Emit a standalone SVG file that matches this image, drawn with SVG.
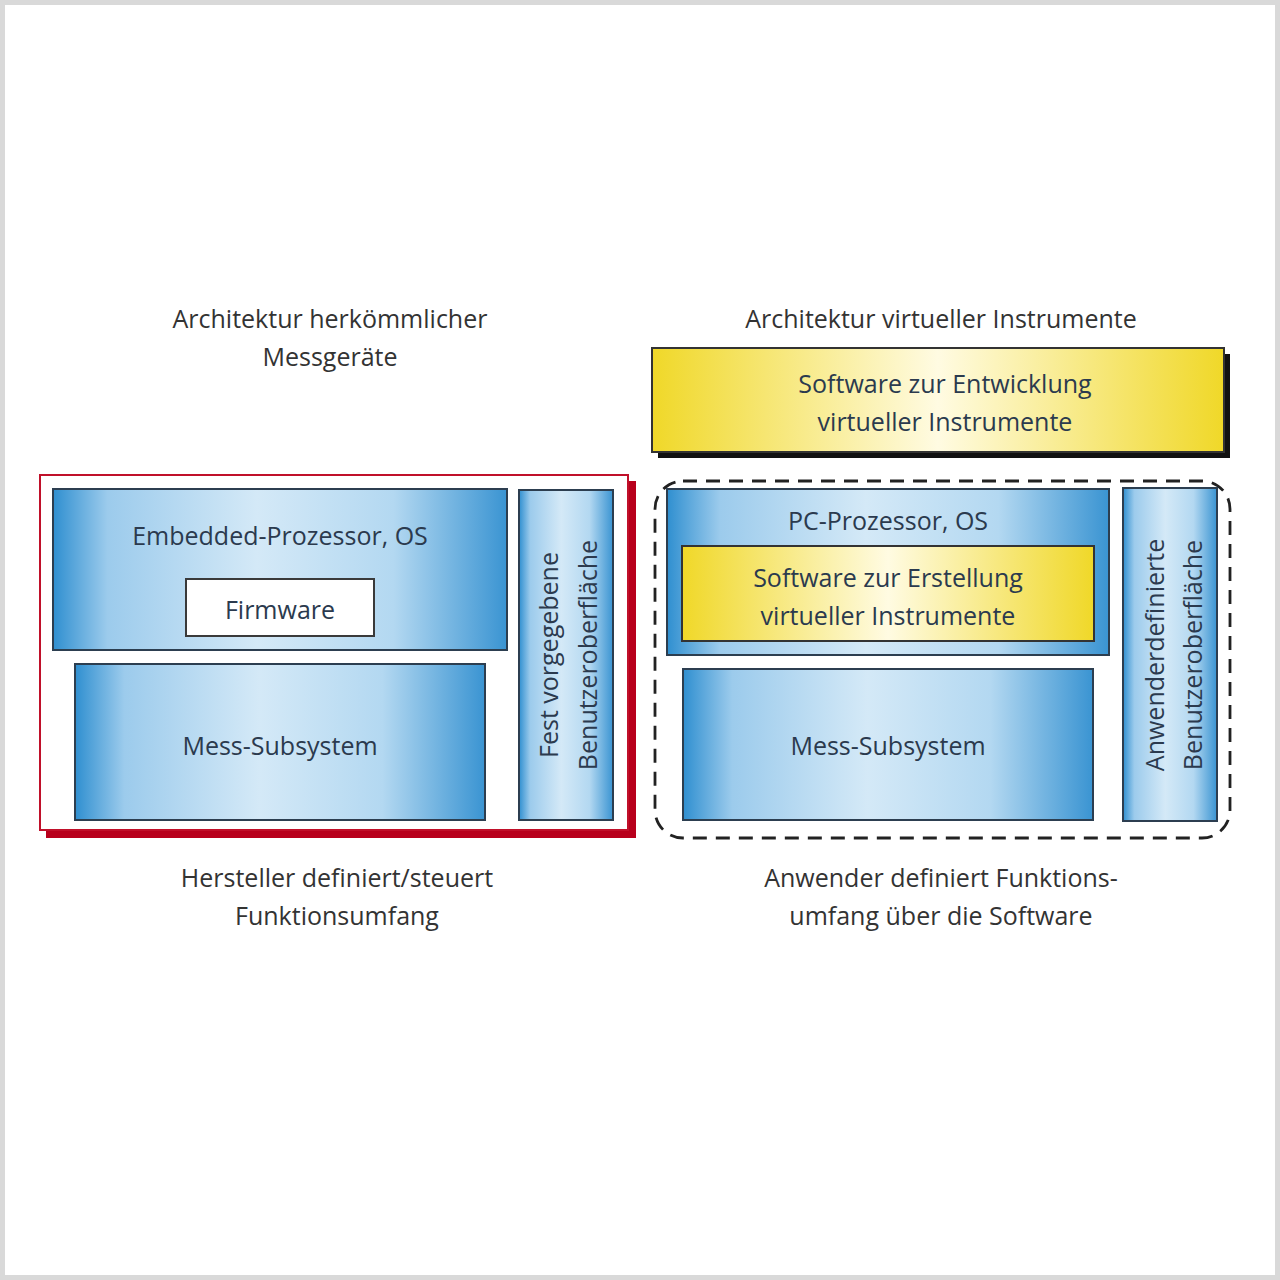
<svg xmlns="http://www.w3.org/2000/svg" width="1280" height="1280" viewBox="0 0 1280 1280">
<defs>
<linearGradient id="blue" x1="0" y1="0" x2="1" y2="0">
<stop offset="0" stop-color="#2f8fd0"/>
<stop offset="0.12" stop-color="#9ccbec"/>
<stop offset="0.45" stop-color="#d4e9f7"/>
<stop offset="0.75" stop-color="#b3d8f1"/>
<stop offset="1" stop-color="#3a94d2"/>
</linearGradient>
<linearGradient id="yellow" x1="0" y1="0" x2="1" y2="0">
<stop offset="0" stop-color="#f0d828"/>
<stop offset="0.5" stop-color="#fffbe2"/>
<stop offset="1" stop-color="#f0d828"/>
</linearGradient>
<style>
.t{font-family:"Open Sans","Liberation Sans",sans-serif;font-size:25px;fill:#333;text-anchor:middle}
.b{fill:#2b3a4e}
.box{fill:url(#blue);stroke:#2c3e50;stroke-width:2}
.ybox{fill:url(#yellow);stroke:#333;stroke-width:2}
</style>
</defs>
<rect x="2.5" y="2.5" width="1275" height="1275" fill="#fff" stroke="#d9d9d9" stroke-width="5"/>

<g id="titles">
<text class="t" x="330" y="328">Architektur herkömmlicher</text>
<text class="t" x="330" y="366">Messgeräte</text>
<text class="t" x="941" y="328">Architektur virtueller Instrumente</text>
<text class="t" x="337" y="887">Hersteller definiert/steuert</text>
<text class="t" x="337" y="925">Funktionsumfang</text>
<text class="t" x="941" y="887">Anwender definiert Funktions-</text>
<text class="t" x="941" y="925">umfang über die Software</text>
</g>

<g id="left-frame">
<rect x="46" y="481" width="590" height="357" fill="#b8001c"/>
<rect x="40" y="475" width="588" height="355" fill="#fff" stroke="#c0102a" stroke-width="2"/>
</g>

<g id="embedded">
<rect class="box" x="53" y="489" width="454" height="161"/>
<text class="t b" x="280" y="545">Embedded-Prozessor, OS</text>
</g>
<g id="firmware">
<rect x="186" y="579" width="188" height="57" fill="#fff" stroke="#3a3a3a" stroke-width="2"/>
<text class="t b" x="280" y="619">Firmware</text>
</g>
<g id="mess-left">
<rect class="box" x="75" y="664" width="410" height="156"/>
<text class="t b" x="280" y="755">Mess-Subsystem</text>
</g>
<g id="ui-left">
<rect class="box" x="519" y="490" width="94" height="330"/>
<text class="t b" transform="translate(558,655) rotate(-90)">Fest vorgegebene</text>
<text class="t b" transform="translate(597,655) rotate(-90)">Benutzeroberfläche</text>
</g>

<g id="sw-entwicklung">
<rect x="658" y="354" width="572" height="104" fill="#111"/>
<rect class="ybox" x="652" y="348" width="572" height="104"/>
<text class="t b" x="945" y="393">Software zur Entwicklung</text>
<text class="t b" x="945" y="431">virtueller Instrumente</text>
</g>

<g id="right-frame">
<rect x="655" y="481" width="575" height="357" rx="28" fill="none" stroke="#222" stroke-width="2.8" stroke-dasharray="14 9"/>
</g>

<g id="pc">
<rect class="box" x="667" y="489" width="442" height="166"/>
<text class="t b" x="888" y="530">PC-Prozessor, OS</text>
</g>
<g id="sw-erstellung">
<rect class="ybox" x="682" y="546" width="412" height="95"/>
<text class="t b" x="888" y="587">Software zur Erstellung</text>
<text class="t b" x="888" y="625">virtueller Instrumente</text>
</g>
<g id="mess-right">
<rect class="box" x="683" y="669" width="410" height="151"/>
<text class="t b" x="888" y="755">Mess-Subsystem</text>
</g>
<g id="ui-right">
<rect class="box" x="1123" y="488" width="94" height="333"/>
<text class="t b" transform="translate(1164,655) rotate(-90)">Anwenderdefinierte</text>
<text class="t b" transform="translate(1202,655) rotate(-90)">Benutzeroberfläche</text>
</g>
</svg>
